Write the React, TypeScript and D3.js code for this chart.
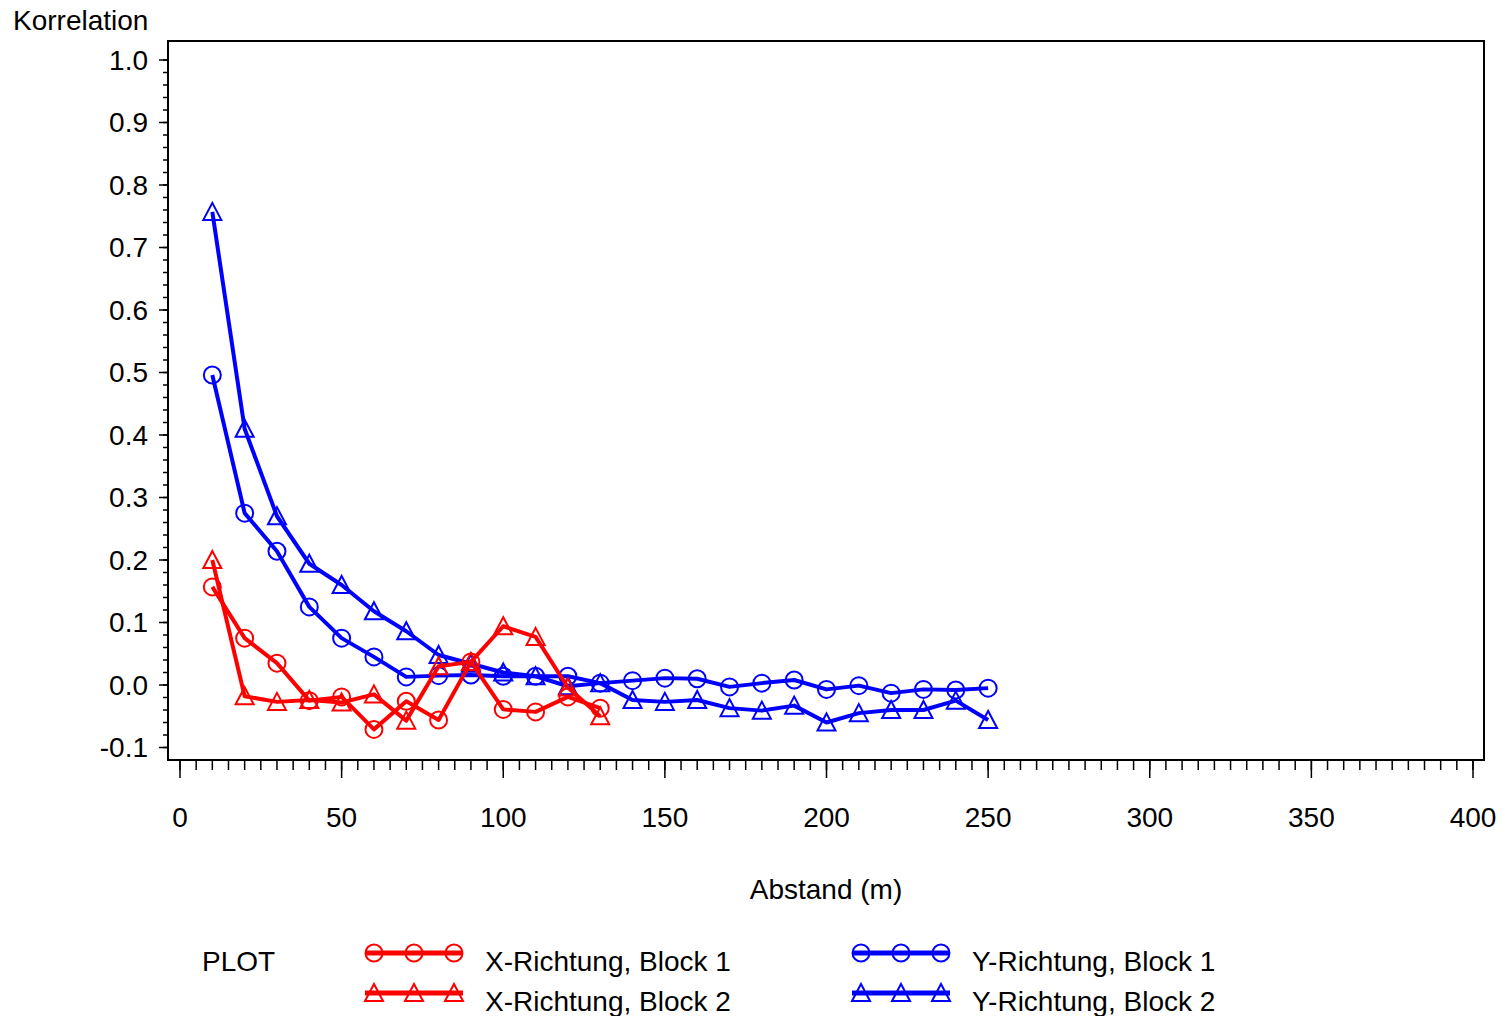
import React from "react";
import * as d3 from "d3";

const distX = [10, 20, 30, 40, 50, 60, 70, 80, 90, 100, 110, 120, 130];
const xBlock1 = [0.157, 0.075, 0.035, -0.025, -0.019, -0.071, -0.026, -0.056, 0.037, -0.039, -0.043, -0.019, -0.037];
const xBlock2 = [0.2, -0.018, -0.027, -0.024, -0.028, -0.015, -0.057, 0.03, 0.037, 0.094, 0.077, -0.004, -0.05];

const distY = [10, 20, 30, 40, 50, 60, 70, 80, 90, 100, 110, 120, 130, 140, 150, 160, 170, 180, 190, 200, 210, 220, 230, 240, 250];
const yBlock1 = [0.496, 0.275, 0.214, 0.125, 0.075, 0.045, 0.013, 0.015, 0.016, 0.014, 0.014, 0.014, 0.003, 0.007, 0.011, 0.01, -0.003, 0.003, 0.008, -0.007, -0.001, -0.013, -0.007, -0.008, -0.005];
const yBlock2 = [0.757, 0.41, 0.27, 0.194, 0.16, 0.118, 0.086, 0.048, 0.034, 0.02, 0.014, -0.002, 0.003, -0.024, -0.027, -0.024, -0.037, -0.041, -0.033, -0.06, -0.045, -0.04, -0.04, -0.025, -0.056];

const xTicks = [0, 50, 100, 150, 200, 250, 300, 350, 400];
const yTicks = [-0.1, 0.0, 0.1, 0.2, 0.3, 0.4, 0.5, 0.6, 0.7, 0.8, 0.9, 1.0];
const yTickLabels = ["-0.1", "0.0", "0.1", "0.2", "0.3", "0.4", "0.5", "0.6", "0.7", "0.8", "0.9", "1.0"];

const seriesNames = ["X-Richtung, Block 1", "X-Richtung, Block 2", "Y-Richtung, Block 1", "Y-Richtung, Block 2"];

const FONT = "'Liberation Sans', Arial, sans-serif";
const FS = 28;

function Marker({ kind, cx, cy, color }: { kind: string; cx: number; cy: number; color: string }) {
  if (kind === "circle") {
    return <circle cx={cx} cy={cy} r={8.5} fill="none" stroke={color} strokeWidth={2} />;
  }
  const h = 16, w = 18;
  const p = `M${cx},${cy - h / 2 - 1}L${cx + w / 2},${cy + h / 2}L${cx - w / 2},${cy + h / 2}Z`;
  return <path d={p} fill="none" stroke={color} strokeWidth={2} />;
}

export default function App() {
  const x = d3.scaleLinear().domain([0, 400]).range([180, 1473]);
  const y = d3.scaleLinear().domain([-0.1, 1.0]).range([747.5, 60]);
  const frame = { l: 168, t: 41, r: 1484, b: 760 };

  const series = [
    { name: seriesNames[2], d: distY, v: yBlock1, color: "#0000ff", kind: "circle" },
    { name: seriesNames[3], d: distY, v: yBlock2, color: "#0000ff", kind: "triangle" },
    { name: seriesNames[0], d: distX, v: xBlock1, color: "#ff0000", kind: "circle" },
    { name: seriesNames[1], d: distX, v: xBlock2, color: "#ff0000", kind: "triangle" },
  ];

  const line = d3.line<[number, number]>().x((p) => x(p[0])).y((p) => y(p[1]));

  const xMinor = d3.range(0, 401, 5);
  const yMinor = d3.range(-10, 101, 2).map((k) => k / 100);

  const legend = [
    { name: seriesNames[0], color: "#ff0000", kind: "circle", lx: 365, ly: 953 },
    { name: seriesNames[1], color: "#ff0000", kind: "triangle", lx: 365, ly: 993 },
    { name: seriesNames[2], color: "#0000ff", kind: "circle", lx: 852, ly: 953 },
    { name: seriesNames[3], color: "#0000ff", kind: "triangle", lx: 852, ly: 993 },
  ];

  return (
    <svg width={1505} height={1016} style={{ position: "absolute", left: 0, top: 0, background: "#fff" }} fontFamily={FONT}>
      <rect x={0} y={0} width={1505} height={1016} fill="#fff" />
      <text x={13} y={20} dy="0.35em" fontSize={FS}>Korrelation</text>
      {yMinor.map((t, i) => (
        <line key={"ym" + i} x1={frame.l - 5} x2={frame.l} y1={y(t)} y2={y(t)} stroke="#000" strokeWidth={1.5} />
      ))}
      {yTicks.map((t, i) => (
        <g key={"yt" + i}>
          <line x1={frame.l - 9} x2={frame.l} y1={y(t)} y2={y(t)} stroke="#000" strokeWidth={1.5} />
          <text x={148} y={y(t)} dy="0.35em" textAnchor="end" fontSize={FS}>{yTickLabels[i]}</text>
        </g>
      ))}
      {xMinor.map((t, i) => (
        <line key={"xm" + i} x1={x(t)} x2={x(t)} y1={frame.b} y2={frame.b + 10} stroke="#000" strokeWidth={1.5} />
      ))}
      {xTicks.map((t, i) => (
        <g key={"xt" + i}>
          <line x1={x(t)} x2={x(t)} y1={frame.b} y2={frame.b + 18} stroke="#000" strokeWidth={1.5} />
          <text x={x(t)} y={817} dy="0.35em" textAnchor="middle" fontSize={FS}>{t}</text>
        </g>
      ))}
      <text x={826} y={889} dy="0.35em" textAnchor="middle" fontSize={FS}>Abstand (m)</text>
      {series.map((s, i) => {
        const pts: [number, number][] = s.d.map((dd, j) => [dd, s.v[j]]);
        return (
          <g key={"s" + i}>
            <path d={line(pts) || ""} fill="none" stroke={s.color} strokeWidth={4} strokeLinejoin="round" />
            {pts.map((p, j) => (
              <Marker key={j} kind={s.kind} cx={x(p[0])} cy={y(p[1])} color={s.color} />
            ))}
          </g>
        );
      })}
      <rect x={frame.l} y={frame.t} width={frame.r - frame.l} height={frame.b - frame.t} fill="none" stroke="#000" strokeWidth={2} />
      <text x={202} y={961} dy="0.35em" fontSize={FS}>PLOT</text>
      {legend.map((l, i) => (
        <g key={"l" + i}>
          <line x1={l.lx} x2={l.lx + 98} y1={l.ly} y2={l.ly} stroke={l.color} strokeWidth={5} />
          {[9, 49, 89].map((o) => (
            <Marker key={o} kind={l.kind} cx={l.lx + o} cy={l.ly} color={l.color} />
          ))}
          <text x={l.lx + 120} y={l.ly + 8} dy="0.35em" fontSize={FS}>{l.name}</text>
        </g>
      ))}
    </svg>
  );
}
